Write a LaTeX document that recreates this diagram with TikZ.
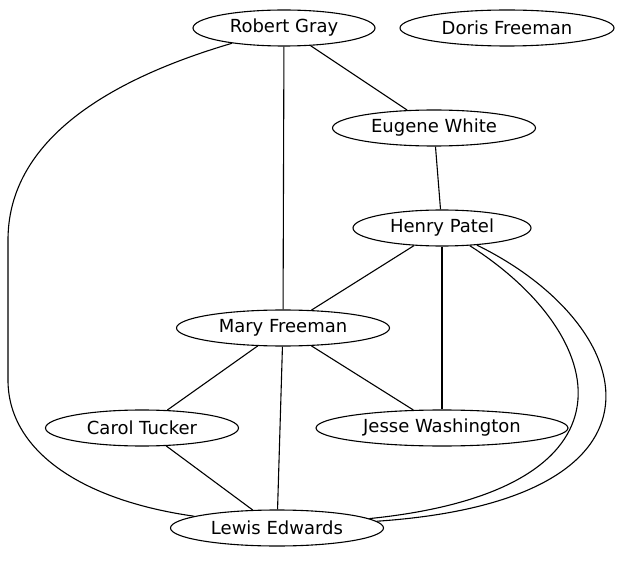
\documentclass[tikz,border=0pt]{standalone}
\usepackage{fontspec}
\setmainfont{DejaVu Sans}
\usetikzlibrary{shapes.geometric}

\begin{document}
\begin{tikzpicture}[x=1pt, y=-1pt, line width=1.1pt,
    person/.style={draw, ellipse, inner sep=0pt, minimum height=36pt, font=\fontsize{18}{20}\selectfont}]
    \useasboundingbox (0,0) rectangle (621,561);

    % People
    \node[person, minimum width=182pt] (rg) at (284,28) {Robert Gray};
    \node[person, minimum width=214pt] (df) at (507,28) {Doris Freeman};
    \node[person, minimum width=203pt] (ew) at (434,128) {Eugene White};
    \node[person, minimum width=178pt] (hp) at (442,228) {Henry Patel};
    \node[person, minimum width=213pt] (mf) at (283,328) {Mary Freeman};
    \node[person, minimum width=193pt] (ct) at (142,428) {Carol Tucker};
    \node[person, minimum width=252pt] (jw) at (442,428) {Jesse Washington};
    \node[person, minimum width=213pt] (le) at (277,528) {Lewis Edwards};

    % Straight links
    \draw (rg) -- (mf);
    \draw (rg) -- (ew);
    \draw (ew) -- (hp);
    \draw (hp) -- (mf);
    \draw (hp) -- (jw);
    \draw (mf) -- (ct);
    \draw (mf) -- (jw);
    \draw (mf) -- (le);
    \draw (ct) -- (le);

    % Curved links
    \draw (rg) .. controls (90,85) and (8,150) .. (8,240) -- (8,380)
        .. controls (8,450) and (80,500) .. (le);
    \draw (hp) .. controls (610,335) and (650,490) .. (le);
    \draw (hp) .. controls (640,325) and (690,500) .. (le);
\end{tikzpicture}
\end{document}
